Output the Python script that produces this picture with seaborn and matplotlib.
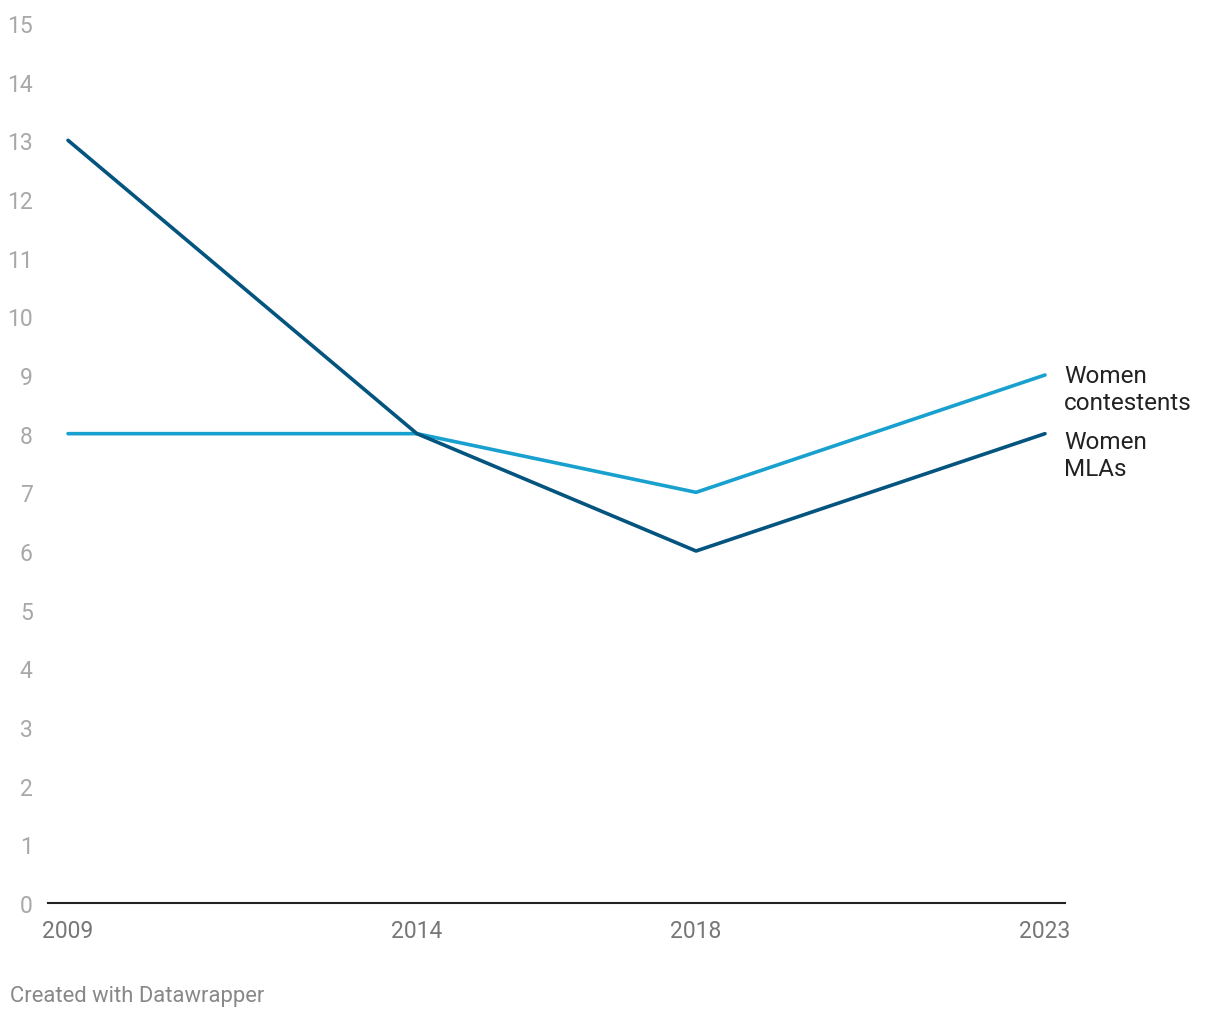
import matplotlib
matplotlib.use("Agg")
import matplotlib.pyplot as plt
import seaborn as sns
import pandas as pd

years = [2009, 2014, 2018, 2023]
women_mlas = [13, 8, 6, 8]
women_contestents = [8, 8, 7, 9]
series_names = ["Women\nMLAs", "Women\ncontestents"]
y_ticks = list(range(0, 16))

sns.set_theme(style="white")
plt.rcParams['font.family'] = ['Roboto', 'DejaVu Sans']

df = pd.DataFrame({
    "year": years * 2,
    "value": women_mlas + women_contestents,
    "series": [series_names[0]] * len(years) + [series_names[1]] * len(years),
})
palette = {series_names[0]: "#03547e", series_names[1]: "#18a0cf"}

fig = plt.figure(figsize=(12.2, 10.2), dpi=100)
ax = fig.add_axes([48/1220, 1 - 904/1020, (1065-48)/1220, (904-24)/1020])

sns.lineplot(data=df, x="year", y="value", hue="series", palette=palette,
             hue_order=[series_names[1], series_names[0]],
             linewidth=2.6, ax=ax, legend=False, solid_capstyle="round")

pad = 0.287
ax.set_xlim(years[0] - pad, years[-1] + pad)
ax.set_ylim(0, 15)
ax.set_xticks(years)
ax.set_xticklabels([str(y) for y in years])
ax.set_yticks(y_ticks)
ax.set_yticklabels([str(t) for t in y_ticks])
ax.set_xlabel("")
ax.set_ylabel("")

for s in ["top", "right", "left"]:
    ax.spines[s].set_visible(False)
ax.spines["bottom"].set_color("#222222")
ax.spines["bottom"].set_linewidth(1.5)
ax.grid(False)

ax.tick_params(axis="y", length=0, pad=11, labelsize=16.5, labelcolor="#a8a8a8")
ax.tick_params(axis="x", length=0, pad=11.5, labelsize=16.5, labelcolor="#777777")

# direct labels at line ends
ax.annotate(series_names[1], xy=(years[-1], women_contestents[-1]), xytext=(19, -14),
            textcoords="offset pixels", ha="left", va="center", fontsize=17.5,
            color="#222222", linespacing=1.24)
ax.annotate(series_names[0], xy=(years[-1], women_mlas[-1]), xytext=(19, -21),
            textcoords="offset pixels", ha="left", va="center", fontsize=17.5,
            color="#222222", linespacing=1.24)

fig.text(10/1220, 1 - 997/1020, "Created with Datawrapper", ha="left", va="center",
         fontsize=15.8, color="#888888")

fig.savefig("out.png", dpi=100)
